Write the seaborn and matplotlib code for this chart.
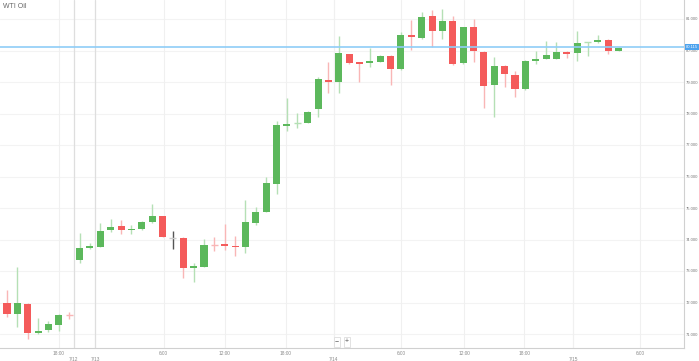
#!/usr/bin/env python
# coding: utf-8

# WTI Oil 캔들 차트 재현
import numpy as np
import matplotlib
matplotlib.use('Agg')
import matplotlib.pyplot as plt
import matplotlib.transforms as mtransforms
import seaborn as sns

# ---------------------------------------------------------------
# 데이터
# ---------------------------------------------------------------
opens = [71.99, 71.64, 71.95, 71.04, 71.12, 71.29, 71.62, 73.35, 73.74, 73.77,
         74.29, 74.42, 74.29, 74.33, 74.56, 74.75, 74.06, 74.04, 73.09, 73.14,
         73.83, 73.86, 73.80, 73.76, 74.51, 74.87, 75.76, 77.59, 77.70, 77.71,
         78.14, 79.06, 78.99, 79.88, 79.63, 79.59, 79.64, 79.84, 79.40, 80.49,
         80.39, 81.10, 80.63, 80.95, 79.59, 80.74, 79.96, 78.90, 79.52, 79.22,
         78.77, 79.68, 79.73, 79.73, 79.96, 79.91, 80.26, 80.28, 80.33, 79.98]
closes = [71.63, 71.97, 71.02, 71.10, 71.31, 71.60, 71.61, 73.72, 73.80, 74.28,
          74.40, 74.29, 74.33, 74.56, 74.74, 74.09, 74.06, 73.09, 73.16, 73.83,
          73.82, 73.79, 73.76, 74.55, 74.88, 75.78, 77.63, 77.67, 77.71, 78.06,
          79.09, 79.01, 79.91, 79.59, 79.57, 79.67, 79.83, 79.40, 80.49, 80.42,
          81.07, 80.62, 80.95, 79.57, 80.74, 79.98, 78.88, 79.51, 79.24, 78.77,
          79.67, 79.73, 79.86, 79.94, 79.90, 80.25, 80.27, 80.33, 79.98, 80.07]
highs = [72.40, 73.14, 71.97, 71.50, 71.42, 71.62, 71.70, 74.22, 73.89, 74.51,
         74.65, 74.61, 74.46, 74.58, 75.13, 74.76, 74.27, 74.07, 73.24, 74.01,
         74.07, 74.49, 74.11, 75.25, 75.02, 75.99, 77.76, 78.48, 78.03, 78.08,
         79.15, 79.63, 80.47, 79.90, 79.63, 80.07, 79.85, 79.85, 80.60, 80.97,
         81.22, 81.29, 81.31, 81.10, 80.76, 81.00, 79.98, 79.80, 79.53, 79.35,
         79.69, 79.99, 80.31, 80.26, 79.97, 80.62, 80.28, 80.49, 80.35, 80.10]
lows = [71.55, 71.23, 70.84, 70.99, 71.07, 71.10, 71.49, 73.24, 73.69, 73.75,
        74.23, 74.17, 74.17, 74.31, 74.51, 74.07, 73.70, 72.79, 72.66, 73.12,
        73.64, 73.67, 73.48, 73.56, 74.47, 74.86, 75.44, 77.45, 77.53, 77.69,
        77.90, 78.64, 78.64, 79.57, 78.99, 79.49, 79.62, 78.90, 79.38, 80.02,
        80.37, 80.12, 80.36, 79.53, 79.57, 79.64, 78.18, 77.90, 78.85, 78.53,
        78.75, 79.56, 79.72, 79.72, 79.75, 79.67, 79.83, 80.25, 79.88, 79.98]

current_price = 80.115

time_ticks = [5.0, 15.1, 21.0, 26.9, 38.0, 44.1, 49.9, 61.1]
time_labels = ['18:00', '6:00', '12:00', '18:00', '6:00', '12:00', '18:00', '6:00']
date_ticks = [6.45, 8.5, 31.5, 54.6]
date_labels = ['7/12', '7/13', '7/14', '7/15']
price_ticks = [71, 72, 73, 74, 75, 76, 77, 78, 79, 80, 81]

# ---------------------------------------------------------------
# 스타일
# ---------------------------------------------------------------
sns.set_style('white')
plt.rcParams['font.family'] = ['Liberation Sans', 'DejaVu Sans']

GREEN = '#5cb85c'
RED = '#f45b5b'
GREEN_WICK = '#b5e0b5'
RED_WICK = '#f9b6b6'

fig = plt.figure(figsize=(6.99, 3.61), dpi=100)
ax = fig.add_axes([0.0, 13 / 361, 684 / 699, 348 / 361])

o = np.array(opens)
c = np.array(closes)
h = np.array(highs)
l = np.array(lows)
x = np.arange(len(o))

# 캔들 색상: 상승/하락/보합
body_col, wick_col = [], []
for oi, ci in zip(o, c):
    if ci > oi:
        body_col.append(GREEN); wick_col.append(GREEN_WICK)
    elif ci < oi:
        body_col.append(RED); wick_col.append(RED_WICK)
    else:
        body_col.append('#cccccc'); wick_col.append('#555555')

# 심지
ax.vlines(x, l, h, colors=wick_col, linewidth=1.0, zorder=2)

# 몸통 (아주 작은 몸통은 연한 십자 모양)
small = np.abs(c - o) < 0.02
big = ~small
ax.bar(x[big], (c - o)[big], bottom=o[big], width=0.68,
       color=[body_col[i] for i in np.where(big)[0]],
       edgecolor='none', zorder=3)
ax.hlines(((o + c) / 2)[small], x[small] - 0.34, x[small] + 0.34,
          colors=[wick_col[i] if body_col[i] != '#cccccc' else '#cccccc'
                  for i in np.where(small)[0]],
          linewidth=1.0, zorder=3)

# 현재가 선
ax.axhline(current_price, color='#8fcdf7', linewidth=1.2, zorder=4)

# 축 범위
ax.set_xlim(-0.675, 65.3)
ax.set_ylim(81 - 329 / 31.5, 81 + 19 / 31.5)

# 격자
for p in price_ticks:
    ax.axhline(p, color='#f3f3f3', linewidth=0.8, zorder=0)
for t in time_ticks:
    ax.axvline(t, color='#f0f0f0', linewidth=0.8, zorder=0)
for i, t in enumerate(date_ticks):
    ax.axvline(t, color='#dedede' if i < 2 else '#f0f0f0', linewidth=0.9, zorder=0)

# 축 눈금
ax.yaxis.tick_right()
ax.set_yticks(price_ticks)
ax.set_yticklabels([f'{p:.3f}' for p in price_ticks])
ax.tick_params(axis='y', length=0, pad=1.2, labelsize=3.0, labelcolor='#777777')
ax.set_xticks(time_ticks)
ax.set_xticklabels(time_labels)
ax.set_xticks(date_ticks, minor=True)
ax.set_xticklabels(date_labels, minor=True)
ax.tick_params(axis='x', which='major', length=0, pad=2.5, labelsize=3.4, labelcolor='#888888')
ax.tick_params(axis='x', which='minor', length=0, pad=6.5, labelsize=3.4, labelcolor='#888888')

for side in ['top', 'left']:
    ax.spines[side].set_visible(False)
ax.spines['right'].set_color('#d0d0d0')
ax.spines['bottom'].set_color('#d0d0d0')
ax.spines['right'].set_linewidth(0.8)
ax.spines['bottom'].set_linewidth(0.8)

# 현재가 라벨
trans = mtransforms.blended_transform_factory(ax.transAxes, ax.transData)
ax.text(1.003, current_price, f'{current_price:.3f}', transform=trans,
        fontsize=3.0, color='white', va='center', ha='left', zorder=6,
        bbox=dict(boxstyle='square,pad=0.2', fc='#4da3ee', ec='none'))

# 제목
fig.text(3 / 699, 1 - 7 / 361, 'WTI Oil', fontsize=5, color='#666666', va='center', ha='left')

# 확대/축소 버튼
for label, px in [('−', 337), ('+', 347)]:
    fig.text(px / 699, 1 - 342 / 361, label, fontsize=5, color='#555555',
             va='center', ha='center',
             bbox=dict(boxstyle='square,pad=0.2', fc='white', ec='#dddddd', lw=0.6))

fig.savefig('out.png', dpi=100)
